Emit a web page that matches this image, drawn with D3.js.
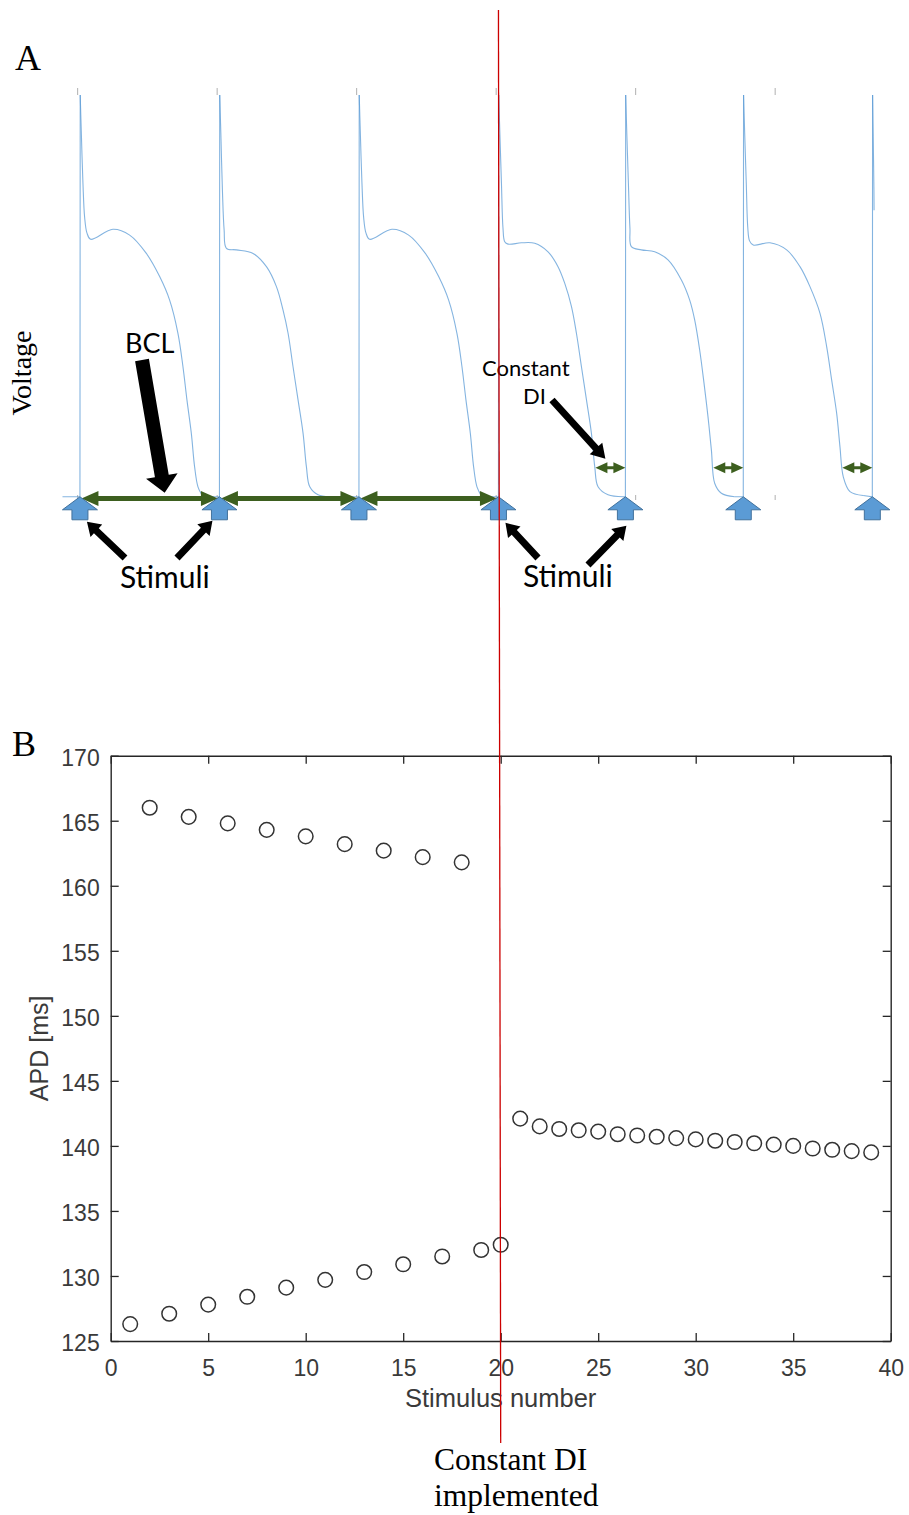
<!DOCTYPE html>
<html>
<head>
<meta charset="utf-8">
<script src="https://cdnjs.cloudflare.com/ajax/libs/d3/7.8.5/d3.min.js"></script>
<style>
    body { margin: 0; background: #fff; }
    svg { display: block; }
</style>
</head>
<body>
<div id="chart"></div>
<script>

// ---- Panel A data: action potentials (time in ms, voltage in mV) ----
var stimTimes = [204, 404, 604, 804, 986, 1155, 1340];
var beatShapes = ["long", "short", "long", "longDI", "shortDI", "longDI2", "cut"];
var restStart = 179;
var restV = -85;

// each shape: [ms after stimulus, mV]; first two points = upstroke
var apLong = [[0,-85],[0.4,39.8],[2.0,28.0],[4.3,12.5],[6.7,1.9],[10.0,-3.0],[15.3,-5.0],[47.3,-1.9],[71.3,-3.7],[95.2,-9.4],
    [114.3,-16.6],[128.6,-23.9],[140.5,-34.2],[147.7,-44.6],[153.4,-54.9],[159.7,-65.3],[164.4,-75.7],[169.2,-81.9],[176.3,-85]];
var apShort = [[0,-85],[0.4,39.8],[2.0,28.0],[4.3,10.0],[6.7,-2.0],[10.0,-7.8],[24.4,-8.3],[48.2,-9.4],[67.4,-13.5],[81.7,-19.7],
    [91.2,-27.0],[98.4,-34.2],[105.5,-44.6],[112.7,-54.9],[119.9,-65.3],[124.7,-75.7],[129.5,-81.9],[141.4,-84.4],[157.7,-85]];
var apLongDI = [[0,-85],[0.4,39.8],[2.0,28.0],[4.3,12.5],[6.5,-1.5],[9.0,-5.75],[13.8,-6.5],[33.0,-6.1],[52.0,-6.25],[71.1,-8.9],
    [85.4,-13.5],[95.1,-18.7],[104.7,-25.9],[111.8,-34.2],[119.0,-44.6],[126.2,-54.9],[133.3,-65.3],[138.1,-75.7],[142.8,-81.9],
    [157.1,-84.4],[178.6,-85]];
var apShortDI = [[0,-85],[0.4,39.8],[2.0,28.0],[4.3,12.5],[6.5,-1.5],[8.6,-7.3],[22.9,-8.3],[42.0,-8.9],[61.1,-11.4],[80.3,-17.65],
    [92.2,-23.9],[99.4,-30.1],[106.5,-39.4],[112.7,-49.7],[118.4,-60.1],[123.3,-70.5],[128.0,-80.8],[137.6,-83.9],[156.7,-85]];
var apLongDI2 = [[0,-85],[0.4,39.8],[2.0,28.0],[4.3,12.5],[6.5,-1.5],[9.0,-5.5],[14.3,-6.8],[38.3,-6.1],[62.2,-8.3],[81.3,-13.5],
    [95.6,-19.7],[110.0,-28.0],[119.6,-38.4],[126.7,-48.7],[133.9,-59.1],[138.6,-69.4],[143.4,-78.8],[153.0,-83.4],[172.0,-84.6]];
var apCut = [[0,-85],[0.4,39.8],[1.4,25],[2.3,10.3],[2.5,4]];

var timeTicks = [200, 400, 600, 800, 1000, 1200];
var bclBeats = 3;        // BCL arrows between the first stimuli
var constDI = 43;        // ms
var diLevel = -76;       // mV, height of DI arrows
var bclLevel = -85.5;

// ---- Panel B data: APD per stimulus ----
var stimUpper = [2, 4, 6, 8, 10, 12, 14, 16, 18];
var apdUpper = [166.0, 165.3, 164.8, 164.3, 163.8, 163.2, 162.7, 162.2, 161.8];
var stimLower = [1, 3, 5, 7, 9, 11, 13, 15, 17, 19, 20];
var apdLower = [126.3, 127.1, 127.8, 128.4, 129.1, 129.7, 130.3, 130.9, 131.5, 132.0, 132.4];
var stimDI = [21, 22, 23, 24, 25, 26, 27, 28, 29, 30, 31, 32, 33, 34, 35, 36, 37, 38, 39];
var apdDI = [142.1, 141.5, 141.3, 141.2, 141.1, 140.9, 140.8, 140.7, 140.6, 140.5, 140.4, 140.3, 140.2, 140.1, 140.0, 139.8, 139.7, 139.6, 139.5];

var xTicksB = [0, 5, 10, 15, 20, 25, 30, 35, 40];
var yTicksB = [125, 130, 135, 140, 145, 150, 155, 160, 165, 170];
var changeStim = 20;
var changeTime = 804;

// ---------------------------------------------------------------

var width = 909, height = 1515;

var svg = d3.select("#chart").append("svg")
    .attr("width", width)
    .attr("height", height);

// Scales panel A
var xA = d3.scaleLinear().domain([179, 1346]).range([62.5, 876.5]);
var yA = d3.scaleLinear().domain([-86, 42]).range([500, 88]);

// Scales panel B
var xB = d3.scaleLinear().domain([0, 40]).range([110.7, 890.7]);
var yB = d3.scaleLinear().domain([125, 170]).range([1341, 755.7]);

// helpers
function doubleArrow(x1, x2, y, shaft, headL, headH) {
    var s = shaft / 2;
    return "M" + x1 + "," + y +
        "L" + (x1 + headL) + "," + (y - headH) + "L" + (x1 + headL) + "," + (y - s) +
        "L" + (x2 - headL) + "," + (y - s) + "L" + (x2 - headL) + "," + (y - headH) +
        "L" + x2 + "," + y +
        "L" + (x2 - headL) + "," + (y + headH) + "L" + (x2 - headL) + "," + (y + s) +
        "L" + (x1 + headL) + "," + (y + s) + "L" + (x1 + headL) + "," + (y + headH) + "Z";
}

function blockArrow(x1, y1, x2, y2, w, headW, headL) {
    var dx = x2 - x1, dy = y2 - y1, len = Math.sqrt(dx * dx + dy * dy);
    var ux = dx / len, uy = dy / len, px = -uy, py = ux;
    var bx = x2 - ux * headL, by = y2 - uy * headL;
    var pts = [
        [x1 + px * w / 2, y1 + py * w / 2], [bx + px * w / 2, by + py * w / 2],
        [bx + px * headW / 2, by + py * headW / 2], [x2, y2],
        [bx - px * headW / 2, by - py * headW / 2], [bx - px * w / 2, by - py * w / 2],
        [x1 - px * w / 2, y1 - py * w / 2]];
    return "M" + pts.join("L") + "Z";
}

// stimulus block arrow (points up, tip at x,y)
function stimArrow(x, y) {
    return "M" + x + "," + y +
        "L" + (x + 17.5) + "," + (y + 13) + "L" + (x + 8) + "," + (y + 13) +
        "L" + (x + 8) + "," + (y + 23) + "L" + (x - 8) + "," + (y + 23) +
        "L" + (x - 8) + "," + (y + 13) + "L" + (x - 17.5) + "," + (y + 13) + "Z";
}

/*
 * Panel A
 */
var shapes = { long: apLong, short: apShort, longDI: apLongDI, shortDI: apShortDI, longDI2: apLongDI2, cut: apCut };

// rest + upstroke pieces are straight, repolarisation is smoothed
var restSegs = [], repolSegs = [];
var prevEnd = [restStart, restV];
stimTimes.forEach(function (t, i) {
    var shp = shapes[beatShapes[i]];
    restSegs.push([prevEnd, [t + shp[0][0], shp[0][1]], [t + shp[1][0], shp[1][1]]]);
    repolSegs.push(shp.slice(1).map(function (p) { return [t + p[0], p[1]]; }));
    var last = shp[shp.length - 1];
    prevEnd = [t + last[0], last[1]];
});

var gA = svg.append("g").attr("class", "panel-a");

// faint MATLAB ticks
gA.append("g")
    .attr("transform", "translate(0," + yA.range()[1] + ")")
    .call(d3.axisTop(xA).tickValues(timeTicks).tickSize(-7).tickSizeOuter(0).tickFormat(""))
    .call(function (g) { g.select(".domain").remove(); })
    .selectAll("line").attr("stroke", "#b0b0b0");

gA.append("g")
    .attr("transform", "translate(0," + yA.range()[0] + ")")
    .call(d3.axisBottom(xA).tickValues(timeTicks).tickSize(-5).tickSizeOuter(0).tickFormat(""))
    .call(function (g) { g.select(".domain").remove(); })
    .selectAll("line").attr("stroke", "#b0b0b0");

var straight = d3.line()
    .x(function (d) { return xA(d[0]); })
    .y(function (d) { return yA(d[1]); });

var smooth = d3.line()
    .curve(d3.curveCatmullRom.alpha(0.5))
    .x(function (d) { return xA(d[0]); })
    .y(function (d) { return yA(d[1]); });

var waveColor = "#5b9bd5";
gA.selectAll(".rest")
    .data(restSegs)
    .enter().append("path")
    .attr("class", "rest")
    .attr("fill", "none")
    .attr("stroke", waveColor)
    .attr("stroke-opacity", 0.75)
    .attr("stroke-width", 1.1)
    .attr("d", straight);

gA.selectAll(".repol")
    .data(repolSegs)
    .enter().append("path")
    .attr("class", "repol")
    .attr("fill", "none")
    .attr("stroke", waveColor)
    .attr("stroke-opacity", 0.75)
    .attr("stroke-width", 1.1)
    .attr("d", smooth);

// BCL arrows
var green = "#3d5f1f";
d3.range(bclBeats).forEach(function (i) {
    gA.append("path")
        .attr("d", doubleArrow(xA(stimTimes[i]) + 1.5, xA(stimTimes[i + 1]) - 1.5, yA(bclLevel), 5, 17, 7.5))
        .attr("fill", green);
});

// constant DI arrows
stimTimes.slice(bclBeats + 1).forEach(function (t) {
    gA.append("path")
        .attr("d", doubleArrow(xA(t - constDI), xA(t), yA(diLevel), 3, 12, 5.5))
        .attr("fill", green);
});

// stimuli
gA.selectAll(".stim")
    .data(stimTimes)
    .enter().append("path")
    .attr("class", "stim")
    .attr("d", function (t) { return stimArrow(xA(t), yA(restV)); })
    .attr("fill", "#5b9bd5")
    .attr("stroke", "#41719c")
    .attr("stroke-width", 1);

// callout arrows
var sx = stimTimes.map(function (t) { return xA(t); });
var base = yA(restV);
var callouts = [
    [142, 360, (sx[0] + sx[1]) / 2 + 15, base - 4, 14, 32, 17],
    [125, 558, sx[0] + 7, base + 25, 7, 17, 13],
    [177, 558, sx[1] - 7, base + 24, 7, 17, 13],
    [538, 558, sx[3] + 7, base + 26, 7, 17, 13],
    [588, 565, sx[4] + 1, base + 29, 7, 17, 13],
    [552, 400, xA(stimTimes[4] - constDI) + 10, yA(diLevel) - 9, 7, 17, 14]
];
callouts.forEach(function (c) {
    gA.append("path")
        .attr("d", blockArrow(c[0], c[1], c[2], c[3], c[4], c[5], c[6]))
        .attr("fill", "#000");
});

// texts
var calibri = "Lato, 'Open Sans', sans-serif";
gA.append("text").attr("x", 125).attr("y", 353).attr("font-family", calibri).attr("font-size", 27).text("BCL");
gA.append("text").attr("x", 120).attr("y", 588).attr("font-family", calibri).attr("font-size", 30).text("Stimuli");
gA.append("text").attr("x", 523).attr("y", 587).attr("font-family", calibri).attr("font-size", 30).text("Stimuli");
gA.append("text").attr("x", 482).attr("y", 376).attr("font-family", calibri).attr("font-size", 22).text("Constant");
gA.append("text").attr("x", 523).attr("y", 404).attr("font-family", calibri).attr("font-size", 22).text("DI");

gA.append("text")
    .attr("transform", "translate(31,373) rotate(-90)")
    .attr("text-anchor", "middle")
    .attr("font-family", "'Liberation Serif', serif")
    .attr("font-size", 28)
    .text("Voltage");

svg.append("text").attr("x", 15).attr("y", 70)
    .attr("font-family", "'Liberation Serif', serif").attr("font-size", 36).text("A");
svg.append("text").attr("x", 12).attr("y", 756)
    .attr("font-family", "'Liberation Serif', serif").attr("font-size", 36).text("B");

/*
 * Panel B
 */
var gB = svg.append("g").attr("class", "panel-b")
    .attr("font-family", "'Liberation Sans', Arial, sans-serif");

var axisColor = "#262626";

var xAxisB = gB.append("g")
    .attr("transform", "translate(0," + yB(125) + ")")
    .call(d3.axisBottom(xB).tickValues(xTicksB).tickSizeInner(-8).tickSizeOuter(0).tickPadding(19));
var yAxisB = gB.append("g")
    .attr("transform", "translate(" + xB(0) + ",0)")
    .call(d3.axisLeft(yB).tickValues(yTicksB).tickSizeInner(-8).tickSizeOuter(0).tickPadding(11));
gB.append("g")
    .attr("transform", "translate(0," + yB(170) + ")")
    .call(d3.axisTop(xB).tickValues(xTicksB).tickSizeInner(-8).tickSizeOuter(0).tickFormat(""));
gB.append("g")
    .attr("transform", "translate(" + xB(40) + ",0)")
    .call(d3.axisRight(yB).tickValues(yTicksB).tickSizeInner(-8).tickSizeOuter(0).tickFormat(""));

gB.selectAll(".domain").attr("stroke", axisColor).attr("stroke-width", 1.4);
gB.selectAll(".tick line").attr("stroke", axisColor).attr("stroke-width", 1.3);
gB.selectAll(".tick text").attr("fill", "#3a3a3a").attr("font-size", 23).attr("font-family", null);
yAxisB.selectAll(".tick text").attr("dy", "0.42em");

gB.append("text")
    .attr("x", (xB(0) + xB(40)) / 2)
    .attr("y", 1407)
    .attr("text-anchor", "middle")
    .attr("fill", "#3a3a3a")
    .attr("font-size", 25.5)
    .text("Stimulus number");

gB.append("text")
    .attr("transform", "translate(48," + (yB(125) + yB(170)) / 2 + ") rotate(-90)")
    .attr("text-anchor", "middle")
    .attr("fill", "#3a3a3a")
    .attr("font-size", 25)
    .text("APD [ms]");

// points
var points = [];
stimUpper.forEach(function (s, i) { points.push([s, apdUpper[i]]); });
stimLower.forEach(function (s, i) { points.push([s, apdLower[i]]); });
stimDI.forEach(function (s, i) { points.push([s, apdDI[i]]); });

gB.selectAll(".pt")
    .data(points)
    .enter().append("circle")
    .attr("class", "pt")
    .attr("cx", function (d) { return xB(d[0]); })
    .attr("cy", function (d) { return yB(d[1]); })
    .attr("r", 7.3)
    .attr("fill", "none")
    .attr("stroke", "#333")
    .attr("stroke-width", 1.5);

// constant DI annotation
svg.append("text").attr("x", 434).attr("y", 1470)
    .attr("font-family", "'Liberation Serif', serif").attr("font-size", 31.5).text("Constant DI");
svg.append("text").attr("x", 434).attr("y", 1506)
    .attr("font-family", "'Liberation Serif', serif").attr("font-size", 31.5).text("implemented");

svg.append("line")
    .attr("x1", xA(changeTime)).attr("y1", 10)
    .attr("x2", xB(changeStim)).attr("y2", 1443)
    .attr("stroke", "#cc0000")
    .attr("stroke-width", 1.3);

</script>
</body>
</html>
